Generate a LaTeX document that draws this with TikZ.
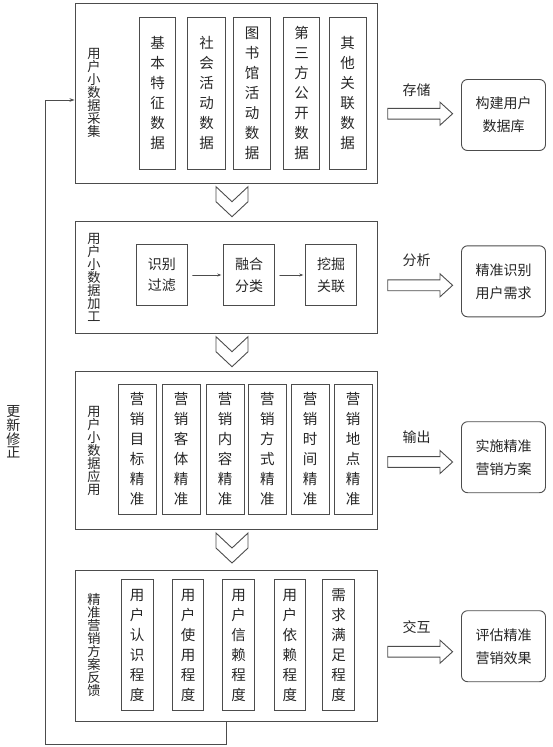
\documentclass[tikz,border=0pt]{standalone}
\usepackage{fontspec}
\setmainfont{Noto Sans CJK SC}
\usetikzlibrary{arrows.meta}

\begin{document}
\begin{tikzpicture}[x=1pt,y=-1pt,line cap=round,
  every node/.style={text=black!85},
  outer/.style={draw=black!70,line width=0.9pt,inner sep=0pt,minimum width=302pt},
  cell/.style={draw=black!70,line width=0.9pt,inner sep=0pt,align=center,font=\fontsize{14.5}{20}\selectfont},
  side/.style={align=center,inner sep=0pt,font=\fontsize{13.2}{13}\selectfont},
  tag/.style={inner sep=0pt,font=\fontsize{14}{13}\selectfont},
  result/.style={draw=black!70,line width=0.9pt,rounded corners=6pt,align=center,
    minimum width=84pt,minimum height=71pt,font=\fontsize{14}{23}\selectfont}]
  \useasboundingbox (0,0) rectangle (552,747);
  % the four stages
  \node[outer,minimum height=180pt] (collect) at (226,93) {};
  \node[outer,minimum height=111.6pt] (process) at (226,277.5) {};
  \node[outer,minimum height=157.6pt] (apply) at (226,450.5) {};
  \node[outer,minimum height=151pt] (feedback) at (226,646.2) {};
  \node[side] (collectlabel) at (94,92.5) {用\\户\\小\\数\\据\\采\\集};
  \node[side] (processlabel) at (94,277.5) {用\\户\\小\\数\\据\\加\\工};
  \node[side] (applylabel) at (94,451) {用\\户\\小\\数\\据\\应\\用};
  \node[side] (feedbacklabel) at (94,645) {精\\准\\营\\销\\方\\案\\反\\馈};
  % data sources
  \foreach \x/\w/\t [count=\i] in {157.5/36.5/{基\\本\\特\\征\\数\\据},
      206.5/37.6/{社\\会\\活\\动\\数\\据}, 252.1/36.8/{图\\书\\馆\\活\\动\\数\\据},
      301.5/36.1/{第\\三\\方\\公\\开\\数\\据}, 347.6/37.3/{其\\他\\关\\联\\数\\据}}
    \node[cell,minimum width=\w pt,minimum height=151.7pt] (source\i) at (\x,93.2) {\t};
  % processing chain
  \begin{scope}[cell/.append style={minimum width=50.5pt,minimum height=61.4pt,font=\fontsize{14}{21.5}\selectfont}]
    \node[cell] (filter) at (161.9,275) {识别\\过滤};
    \node[cell] (merge) at (249,275) {融合\\分类};
    \node[cell] (mine) at (331,275) {挖掘\\关联};
  \end{scope}
  \draw[black!70,line width=0.6pt,-{Stealth[length=4pt,width=3pt]},shorten <=5pt,shorten >=2pt] (filter) -- (merge);
  \draw[black!70,line width=0.6pt,-{Stealth[length=4pt,width=3pt]},shorten <=5pt,shorten >=2pt] (merge) -- (mine);
  % marketing targets
  \foreach \x/\t [count=\i] in {137.2/{营\\销\\目\\标\\精\\准}, 181/{营\\销\\客\\体\\精\\准},
      225/{营\\销\\内\\容\\精\\准}, 267.4/{营\\销\\方\\式\\精\\准},
      310/{营\\销\\时\\间\\精\\准}, 353/{营\\销\\地\\点\\精\\准}}
    \node[cell,minimum width=37.9pt,minimum height=130pt] (target\i) at (\x,449) {\t};
  % feedback measures
  \foreach \x/\w/\t [count=\i] in {137.2/32.3/{用\\户\\认\\识\\程\\度}, 188/31.2/{用\\户\\使\\用\\程\\度},
      238.6/31.6/{用\\户\\信\\赖\\程\\度}, 289.8/31.6/{用\\户\\依\\赖\\程\\度},
      338.6/31.6/{需\\求\\满\\足\\程\\度}}
    \node[cell,minimum width=\w pt,minimum height=131.4pt] (measure\i) at (\x,645) {\t};
  % chevrons between stages
  \foreach \t in {186.7,336.7,533}
    \draw[black!70,line width=0.9pt,line join=miter] (216,\t) -- ++(16,15) -- ++(16,-15) -- ++(0,15)
      -- ++(-16,15) -- ++(-16,-15) -- cycle;
  % outputs on the right
  \foreach \ly/\ay/\by/\s/\r [count=\i] in {90/113.7/115/存储/{构建用户\\数据库},
      260/285.3/281.3/分析/{精准识别\\用户需求}, 437.3/462/457.2/输出/{实施精准\\营销方案},
      627.3/651.7/646.2/交互/{评估精准\\营销效果}}
  {
    \node[tag] (tag\i) at (416.5,\ly) {\s};
    \draw[black!70,line width=0.9pt,line join=miter] (387.7,\ay) ++(0,-5.4) -- ++(52.3,0) -- ++(0,-6.1)
      -- ++(12.6,11.5) -- ++(-12.6,11.5) -- ++(0,-6.1) -- ++(-52.3,0) -- cycle;
    \node[result] (result\i) at (503.5,\by) {\r};
  }
  % update loop
  \node[tag,align=center,font=\fontsize{14}{13.7}\selectfont] (update) at (13.3,432) {更\\新\\修\\正};
  \coordinate (loopcorner) at (45,744);
  \draw[black!70,line width=0.9pt,-{Stealth[length=5pt,width=3.5pt]}] (feedback.south) |- (loopcorner)
    |- ([yshift=-7pt]collect.west);
\end{tikzpicture}
\end{document}
